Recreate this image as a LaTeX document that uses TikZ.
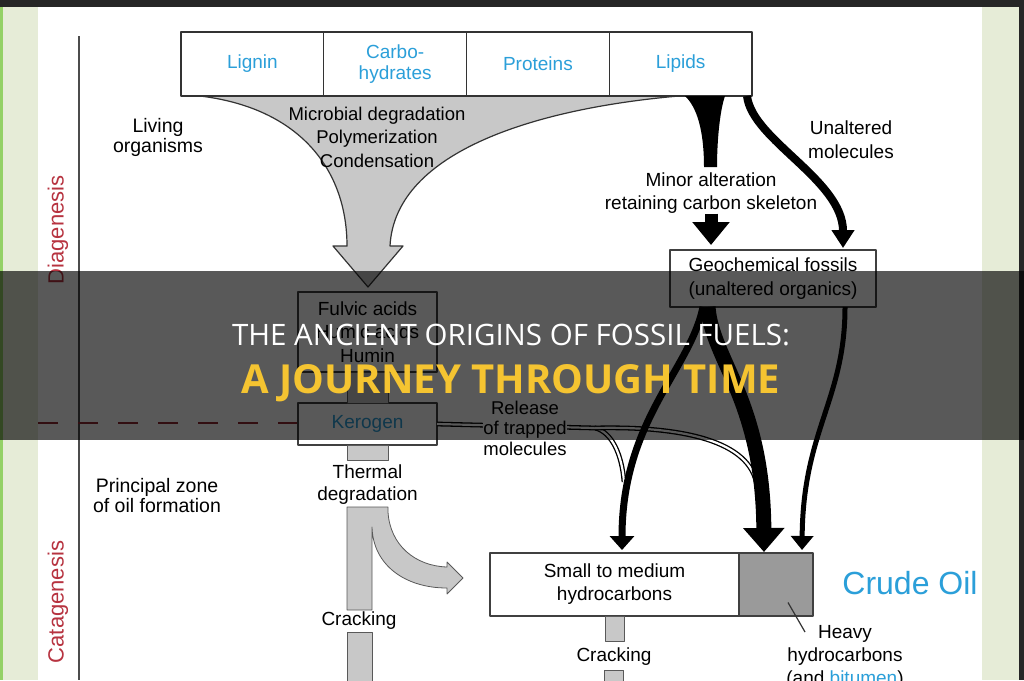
\documentclass[tikz,border=0pt]{standalone}
\usepackage{fontspec}
\setmainfont{Liberation Sans}
\newfontfamily\titlefont{Open Sans}
\usetikzlibrary{arrows.meta,positioning,calc}

\definecolor{labelblue}{HTML}{2B9FD9}
\definecolor{stagered}{HTML}{B73340}
\definecolor{flowgray}{HTML}{C8C8C8}
\definecolor{heavygray}{HTML}{9A9A9A}
\definecolor{stripgreen}{HTML}{E6ECD7}
\definecolor{titleyellow}{HTML}{F5C431}

\begin{document}
\begin{tikzpicture}[x=1pt, y=-1pt, line join=round,
    txt/.style={font=\fontsize{19}{21}\selectfont, align=center, inner sep=0pt},
    cell/.style={txt, draw=black!80, line width=1.2pt, fill=white, minimum width=142.75pt, minimum height=64pt, outer sep=0pt, text=labelblue},
    plainbox/.style={txt, draw=black!75, line width=1.2pt, fill=white, outer sep=0pt},
    band/.style={fill=flowgray, draw=black!65, line width=0.8pt},
    flow/.style={draw=black, line width=#1},
    stage/.style={font=\fontsize{22}{24}\selectfont, text=stagered, rotate=90, inner sep=0pt}]

    \useasboundingbox (0,0) rectangle (1024,680);
    \clip (0,0) rectangle (1024,680);
    \fill[white] (0,0) rectangle (1024,680);

    % frame
    \fill[stripgreen] (0,0) rectangle (38,680);
    \fill[stripgreen] (982,0) rectangle (1024,680);
    \fill[green!40!olive!60] (0,7) rectangle (3,680);
    \fill[black!85] (0,0) rectangle (1024,7);
    \fill[black!85] (1019,0) rectangle (1024,680);

    % stages
    \draw[black!70, line width=1.5pt] (79,36) -- (79,680);
    \draw[stagered!80!black, line width=1.5pt, dash pattern=on 20pt off 20pt] (38,423) -- (298,423);
    \node[stage] (diagenesis) at (58,230) {Diagenesis};
    \node[stage] (catagenesis) at (58,602) {Catagenesis};
    \node[txt, font=\fontsize{19.5}{20}\selectfont] (living) at (158,137) {Living\\organisms};
    \node[txt, font=\fontsize{19.5}{20}\selectfont] (principal) at (157,496) {Principal zone\\of oil formation};

    % funnel
    \filldraw[band, line width=1.2pt, draw=black!80] (200,96) .. controls (300,108) and (347,170) .. (347,246) -- (333,246) -- (368,287) -- (403,246) -- (390,246) .. controls (395,150) and (540,108) .. (679,96) -- cycle;
    \node[txt, font=\fontsize{18.5}{23.5}\selectfont] (microbial) at (377,137) {Microbial degradation\\Polymerization\\Condensation};

    % biomass
    \node[cell] (lignin) at (252.4,64) {Lignin};
    \node[cell, right=0pt of lignin] (carbo) {Carbo-\\hydrates};
    \node[cell, right=0pt of carbo] (proteins) {Proteins};
    \node[cell, right=0pt of proteins] (lipids) {Lipids};

    % lipid pathways
    \fill (685,96) .. controls (700,110) and (704,140) .. (704,167) -- (717,167) .. controls (717,140) and (720,110) .. (725,96) -- cycle;
    \node[txt, font=\fontsize{19}{23}\selectfont] (minor) at (711,193) {Minor alteration\\retaining carbon skeleton};
    \node[txt, font=\fontsize{19}{24}\selectfont] (unaltered) at (851,140) {Unaltered\\molecules};
    \node[plainbox, minimum width=206pt, minimum height=57pt, font=\fontsize{19}{24}\selectfont] (geo) at (773,278.5) {Geochemical fossils\\(unaltered organics)};
    \draw[flow=13pt, -{Triangle[length=23pt,width=36pt]}, shorten >=5pt] (minor.south) -- (minor.south |- geo.north);
    \draw[flow=8pt, -{Triangle[length=18pt,width=22pt]}, shorten >=2pt] ([xshift=-5pt]lipids.south east) .. controls (752,140) and (843,180) .. ([xshift=70pt]geo.north);

    % diagenesis products
    \node[plainbox, minimum width=139pt, minimum height=80pt, font=\fontsize{19}{23.5}\selectfont] (fulvic) at (367.5,332) {Fulvic acids\\Humic acids\\Humin};
    \node[plainbox, minimum width=139pt, minimum height=42pt, text=labelblue] (kerogen) at (367.5,424) {Kerogen};
    \filldraw[band] (fulvic.south) ++(-20.5,0) rectangle ++(41,31);
    \filldraw[band] (kerogen.south) ++(-20.5,0) rectangle ++(41,15);
    \node[txt, font=\fontsize{19}{22}\selectfont] (thermal) at (367.5,485) {Thermal\\degradation};
    \filldraw[band] (347,507) -- (388,507) -- (388,512) .. controls (390,545) and (415,566) .. (447,567) -- (447,562) -- (463,578) -- (447,594) -- (447,588) .. controls (405,588) and (373,565) .. (372,527) -- (372,610) -- (347,610) -- cycle;
    \node[txt] (crackA) at (359,621) {Cracking};
    \filldraw[band] (347,632) rectangle (372,690);

    % oil
    \node[plainbox, minimum width=249pt, minimum height=63pt, font=\fontsize{19}{23}\selectfont] (small) at (614.5,584.5) {Small to medium\\hydrocarbons};
    \node[plainbox, fill=heavygray, minimum width=74pt, minimum height=63pt, right=0pt of small] (heavy) {};
    \node[txt, font=\fontsize{19}{23}\selectfont] (heavylabel) at (845,657) {Heavy\\hydrocarbons\\(and \textcolor{labelblue}{bitumen})};
    \coordinate (pointer) at (805,632);
    \draw[black!80, line width=1.2pt] ($(heavy.center)+(12,18)$) -- (pointer);
    \filldraw[band] (small.south) ++(-9.5,0) rectangle ++(19,25);
    \node[txt] (crackB) at (614,657) {Cracking};
    \filldraw[band] (604.5,670) rectangle (623.5,690);
    \node[txt, font=\fontsize{32}{34}\selectfont, text=labelblue] (crude) at (910,583) {Crude Oil};

    % release of trapped molecules
    \coordinate (fork) at (595,428);
    \draw[line width=1.3pt, double=white, double distance=2.2pt] (kerogen.east) -- (fork) .. controls (612,432) and (622,455) .. (624,482);
    \draw[line width=1.3pt, double=white, double distance=2.2pt] (fork) .. controls (680,426) and (752,440) .. (757,487);
    \node[txt, fill=white, font=\fontsize{18.5}{20.5}\selectfont] (release) at (525,428) {Release\\of trapped\\molecules};

    % geochemical fossils to oil
    \draw[flow=7pt, -{Triangle[length=14pt,width=24pt]}, shorten >=3pt] ([xshift=-70pt]geo.south) .. controls (690,370) and (622,420) .. ([xshift=7.5pt]small.north);
    \draw[flow=15pt, -{Triangle[length=24pt,width=40pt]}, shorten >=1pt] ([xshift=-65pt]geo.south) .. controls (712,360) and (763,400) .. ([xshift=-12pt]heavy.north);
    \draw[flow=5pt, -{Triangle[length=14pt,width=22pt]}, shorten >=3pt] ([xshift=72pt]geo.south) .. controls (845,400) and (803,430) .. ([xshift=26pt]heavy.north);

    % title banner
    \fill[black, opacity=0.65] (0,271) rectangle (1024,440);
    \node[inner sep=0pt, font=\titlefont\fontsize{29.5}{31}\selectfont, text=white] (titleA) at (511,335) {THE ANCIENT ORIGINS OF FOSSIL FUELS:};
    \node[inner sep=0pt, font=\titlefont\bfseries\fontsize{40}{42}\selectfont, text=titleyellow] (titleB) at (511,383) {A JOURNEY THROUGH TIME};
\end{tikzpicture}
\end{document}
